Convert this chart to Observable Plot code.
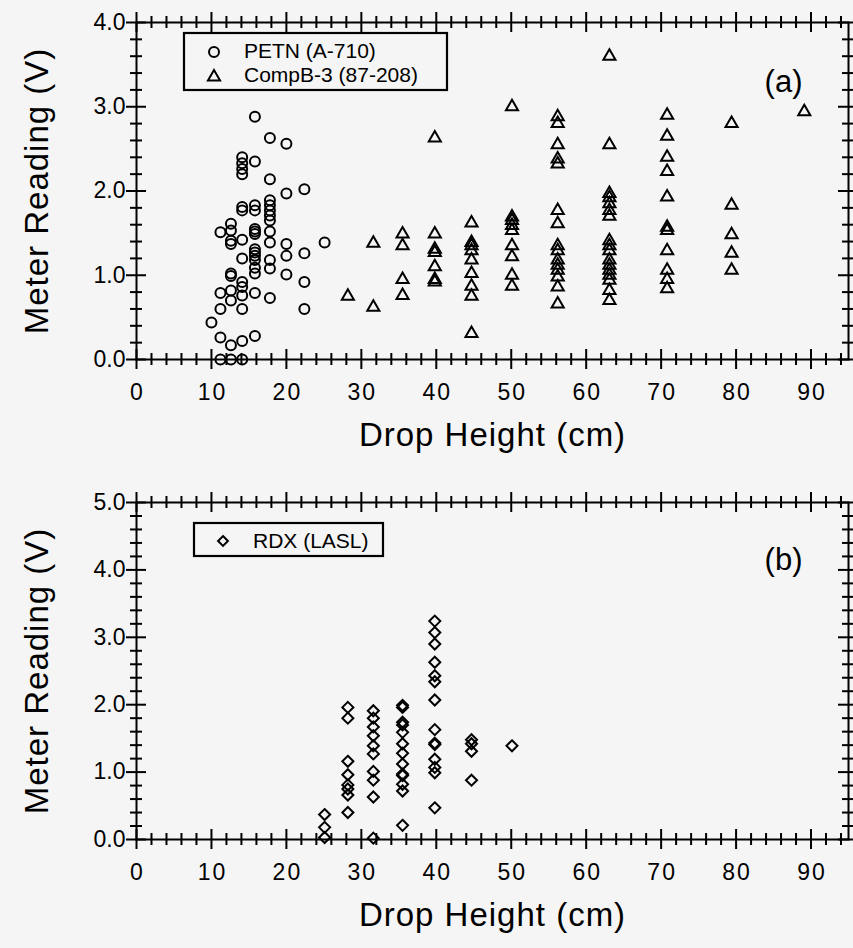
<!DOCTYPE html>
<html>
<head>
<meta charset="utf-8">
<script src="https://cdn.jsdelivr.net/npm/d3@7"></script>
<script src="https://cdn.jsdelivr.net/npm/@observablehq/plot@0.6"></script>
<style>
  body { margin: 0; background: #f5f5f5; }
  #chart { width: 853px; height: 948px; background: #f5f5f5; }
  #chart svg { display: block; }
</style>
</head>
<body>
<div id="chart"></div>
<script>
// ---------- data ----------
const xTickValues = [0, 10, 20, 30, 40, 50, 60, 70, 80, 90];
const yTickValuesA = [0, 1, 2, 3, 4];
const yTickValuesB = [0, 1, 2, 3, 4, 5];

const xLabel = "Drop Height (cm)";
const yLabel = "Meter Reading (V)";
const petnName = "PETN (A-710)";
const compbName = "CompB-3 (87-208)";
const rdxName = "RDX (LASL)";

const petnHeights = [10.0, 11.2, 12.6, 14.1, 15.8, 17.8, 20.0, 22.4, 25.1];
const petnReadings = [
  [0.44],
  [1.51, 0.79, 0.60, 0.26, 0.0],
  [1.61, 1.53, 1.41, 1.37, 1.02, 0.99, 0.82, 0.70, 0.17, 0.0],
  [2.40, 2.33, 2.26, 2.20, 1.81, 1.77, 1.42, 1.20, 0.92, 0.86, 0.76, 0.60, 0.22, 0.0],
  [2.88, 2.35, 1.83, 1.77, 1.55, 1.52, 1.49, 1.31, 1.27, 1.23, 1.18, 1.09, 1.02, 0.79, 0.28],
  [2.63, 2.14, 1.89, 1.83, 1.77, 1.71, 1.65, 1.52, 1.39, 1.18, 1.08, 0.73],
  [2.56, 1.97, 1.37, 1.23, 1.01],
  [2.02, 1.26, 0.92, 0.60],
  [1.39]
];

const compbHeights = [28.2, 31.6, 35.5, 39.8, 44.7, 50.1, 56.2, 63.1, 70.8, 79.4, 89.1];
const compbReadings = [
  [0.75],
  [1.38, 0.62],
  [1.49, 1.35, 0.95, 0.76],
  [2.63, 1.49, 1.31, 1.27, 1.10, 0.95, 0.92],
  [1.62, 1.39, 1.35, 1.29, 1.18, 1.02, 0.87, 0.75, 0.31],
  [3.00, 1.69, 1.65, 1.59, 1.53, 1.35, 1.22, 1.00, 0.87],
  [2.88, 2.80, 2.55, 2.38, 2.32, 1.77, 1.61, 1.35, 1.29, 1.18, 1.12, 1.06, 0.98, 0.86, 0.66],
  [3.60, 2.55, 1.97, 1.92, 1.85, 1.77, 1.70, 1.41, 1.35, 1.29, 1.18, 1.12, 1.06, 1.00, 0.94, 0.82, 0.70],
  [2.90, 2.65, 2.40, 2.23, 1.93, 1.57, 1.53, 1.29, 1.06, 0.95, 0.84],
  [2.80, 1.83, 1.48, 1.26, 1.06],
  [2.94]
];

const rdxHeights = [25.1, 28.2, 31.6, 35.5, 39.8, 44.7, 50.1];
const rdxReadings = [
  [0.37, 0.18, 0.03],
  [1.96, 1.80, 1.16, 0.96, 0.81, 0.75, 0.66, 0.40],
  [1.91, 1.80, 1.67, 1.54, 1.39, 1.27, 1.01, 0.88, 0.63, 0.02],
  [1.99, 1.96, 1.74, 1.70, 1.59, 1.42, 1.28, 1.12, 0.97, 0.95, 0.82, 0.72, 0.21],
  [3.24, 3.07, 2.90, 2.63, 2.43, 2.34, 2.07, 1.63, 1.43, 1.41, 1.19, 1.07, 0.99, 0.47],
  [1.48, 1.42, 1.31, 0.88],
  [1.39]
];

// ---------- helpers ----------
const flatten = (heights, readings) =>
  heights.flatMap((h, i) => readings[i].map(v => ({height: h, reading: v})));

const FONT = '"Liberation Sans", Arial, Helvetica, sans-serif';
const W = 853, H = 474;
const ML = 136, MR = 5;

const squareDiamond = {
  draw(context, size) {
    const h = Math.sqrt(size / 2);
    context.moveTo(0, -h);
    context.lineTo(h, 0);
    context.lineTo(0, h);
    context.lineTo(-h, 0);
    context.closePath();
  }
};

function tickSet(fw, fh, xs, ys, s) {
  const st = {stroke: "black", strokeWidth: 2};
  return [
    Plot.tickX(xs, {x: d => d, insetTop: fh - s, insetBottom: -s, ...st}),
    Plot.tickX(xs, {x: d => d, insetTop: -s, insetBottom: fh - s, ...st}),
    Plot.tickY(ys, {y: d => d, insetLeft: -s, insetRight: fw - s, ...st}),
    Plot.tickY(ys, {y: d => d, insetLeft: fw - s, insetRight: -s, ...st})
  ];
}

function panel({series, yTicks, marginTop, marginBottom, tag, tagDy}) {
  const yMax = yTicks[yTicks.length - 1];
  const fw = W - ML - MR, fh = H - marginTop - marginBottom;
  const xMinor = d3.range(0, 95, 2).filter(v => v % 10 !== 0);
  const yMinor = d3.range(0, yMax * 5 + 1).map(k => k / 5).filter((v, k) => k % 5 !== 0);
  return Plot.plot({
    width: W, height: H,
    marginLeft: ML, marginRight: MR, marginTop, marginBottom,
    x: {domain: [0, 95]},
    y: {domain: [0, yMax]},
    style: {background: "transparent", fontFamily: FONT, fontSize: "23px", color: "black"},
    marks: [
      ...tickSet(fw, fh, xTickValues, yTicks, 10),
      ...tickSet(fw, fh, xMinor, yMinor, 6),
      Plot.frame({stroke: "black", strokeWidth: 2}),
      Plot.axisX(xTickValues, {tickSize: 0, tickPadding: 24, label: null, tickFormat: d3.format("d"), fontSize: 23, className: "xtl"}),
      Plot.axisY(yTicks, {tickSize: 0, tickPadding: 11, label: null, tickFormat: d3.format(".1f"), fontSize: 23}),
      ...series.map(s => Plot.dot(s.data, {
        x: "height", y: "reading", symbol: s.symbol, r: s.r,
        stroke: "black", strokeWidth: 2, fill: "none"
      })),
      Plot.text([xLabel], {frameAnchor: "bottom", dy: 86, fontSize: 33, textAnchor: "middle", text: d => d, className: "axtitle"}),
      Plot.text([yLabel], {frameAnchor: "left", dx: -99, rotate: -90, fontSize: 33, textAnchor: "middle", text: d => d, className: "axtitle"}),
      Plot.text([tag], {frameAnchor: "top-right", dx: -46, dy: tagDy, textAnchor: "end", fontSize: 31, text: d => d})
    ]
  });
}

function addLegend(svg, box, items) {
  const g = d3.select(svg).append("g")
    .attr("font-family", FONT).attr("font-size", 21).attr("text-anchor", "start");
  g.append("rect").attr("x", box.x).attr("y", box.y).attr("width", box.w).attr("height", box.h)
    .attr("fill", "none").attr("stroke", "black").attr("stroke-width", 2.2);
  items.forEach(it => {
    g.append("path")
      .attr("d", d3.symbol(it.symbol, it.size)())
      .attr("transform", `translate(${it.sx},${it.sy})`)
      .attr("fill", "none").attr("stroke", "black").attr("stroke-width", 2);
    g.append("text").attr("x", it.tx).attr("y", it.ty)
      .attr("text-anchor", "start").attr("fill", "black").text(it.label);
  });
}

// ---------- build ----------
const petn = flatten(petnHeights, petnReadings);
const compb = flatten(compbHeights, compbReadings);
const rdx = flatten(rdxHeights, rdxReadings);

const rCircle = 5, rTri = 4.5, rDia = 4.4;

const svgA = panel({
  series: [
    {data: petn, symbol: "circle", r: rCircle},
    {data: compb, symbol: "triangle", r: rTri}
  ],
  yTicks: yTickValuesA, marginTop: 22, marginBottom: 115, tag: "(a)", tagDy: 47
});
const svgB = panel({
  series: [{data: rdx, symbol: squareDiamond, r: rDia}],
  yTicks: yTickValuesB, marginTop: 28, marginBottom: 109, tag: "(b)", tagDy: 45
});

addLegend(svgA, {x: 184, y: 33, w: 263, h: 57}, [
  {symbol: d3.symbolCircle, size: Math.PI * rCircle * rCircle, sx: 214, sy: 52, tx: 244, ty: 58, label: petnName},
  {symbol: d3.symbolTriangle, size: Math.PI * rTri * rTri, sx: 214, sy: 77, tx: 244, ty: 82, label: compbName}
]);
addLegend(svgB, {x: 194, y: 49, w: 189, h: 33}, [
  {symbol: squareDiamond, size: Math.PI * rDia * rDia * 0.8, sx: 223, sy: 67, tx: 253, ty: 74, label: rdxName}
]);

[svgA, svgB].forEach(svg => {
  d3.select(svg).selectAll(".axtitle text").attr("letter-spacing", 1);
  d3.select(svg).selectAll(".xtl text").attr("letter-spacing", 2).attr("dx", 1);
});

const chart = document.getElementById("chart");
chart.appendChild(svgA);
chart.appendChild(svgB);
</script>
</body>
</html>
